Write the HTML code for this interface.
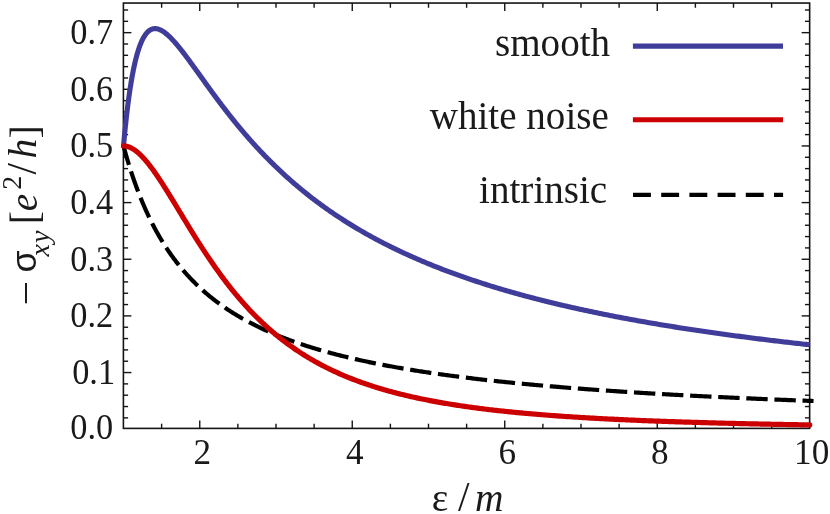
<!DOCTYPE html>
<html><head><meta charset="utf-8"><title>plot</title>
<style>
html,body{margin:0;padding:0;background:#fff;}
body{width:830px;height:514px;overflow:hidden;}
svg{display:block;will-change:transform;}
text{font-family:"Liberation Serif",serif;fill:#1a1a1a;}
</style></head><body>
<svg width="830" height="514" viewBox="0 0 830 514">
<rect x="0" y="0" width="830" height="514" fill="#ffffff"/>
<!-- frame -->
<g stroke="#141414" stroke-width="1.6" fill="none" stroke-linecap="butt">
<rect x="123.4" y="3.05" width="686.25" height="425.35"/>
</g>
<g stroke="#141414" stroke-width="1.4" fill="none" stroke-linecap="butt">
<line x1="123.40" y1="417.87" x2="128.10" y2="417.87"/>
<line x1="809.65" y1="417.87" x2="804.95" y2="417.87"/>
<line x1="123.40" y1="406.54" x2="128.10" y2="406.54"/>
<line x1="809.65" y1="406.54" x2="804.95" y2="406.54"/>
<line x1="123.40" y1="395.21" x2="128.10" y2="395.21"/>
<line x1="809.65" y1="395.21" x2="804.95" y2="395.21"/>
<line x1="123.40" y1="383.88" x2="128.10" y2="383.88"/>
<line x1="809.65" y1="383.88" x2="804.95" y2="383.88"/>
<line x1="123.40" y1="372.55" x2="131.40" y2="372.55"/>
<line x1="809.65" y1="372.55" x2="801.65" y2="372.55"/>
<line x1="123.40" y1="361.22" x2="128.10" y2="361.22"/>
<line x1="809.65" y1="361.22" x2="804.95" y2="361.22"/>
<line x1="123.40" y1="349.89" x2="128.10" y2="349.89"/>
<line x1="809.65" y1="349.89" x2="804.95" y2="349.89"/>
<line x1="123.40" y1="338.56" x2="128.10" y2="338.56"/>
<line x1="809.65" y1="338.56" x2="804.95" y2="338.56"/>
<line x1="123.40" y1="327.23" x2="128.10" y2="327.23"/>
<line x1="809.65" y1="327.23" x2="804.95" y2="327.23"/>
<line x1="123.40" y1="315.90" x2="131.40" y2="315.90"/>
<line x1="809.65" y1="315.90" x2="801.65" y2="315.90"/>
<line x1="123.40" y1="304.57" x2="128.10" y2="304.57"/>
<line x1="809.65" y1="304.57" x2="804.95" y2="304.57"/>
<line x1="123.40" y1="293.24" x2="128.10" y2="293.24"/>
<line x1="809.65" y1="293.24" x2="804.95" y2="293.24"/>
<line x1="123.40" y1="281.91" x2="128.10" y2="281.91"/>
<line x1="809.65" y1="281.91" x2="804.95" y2="281.91"/>
<line x1="123.40" y1="270.58" x2="128.10" y2="270.58"/>
<line x1="809.65" y1="270.58" x2="804.95" y2="270.58"/>
<line x1="123.40" y1="259.25" x2="131.40" y2="259.25"/>
<line x1="809.65" y1="259.25" x2="801.65" y2="259.25"/>
<line x1="123.40" y1="247.92" x2="128.10" y2="247.92"/>
<line x1="809.65" y1="247.92" x2="804.95" y2="247.92"/>
<line x1="123.40" y1="236.59" x2="128.10" y2="236.59"/>
<line x1="809.65" y1="236.59" x2="804.95" y2="236.59"/>
<line x1="123.40" y1="225.26" x2="128.10" y2="225.26"/>
<line x1="809.65" y1="225.26" x2="804.95" y2="225.26"/>
<line x1="123.40" y1="213.93" x2="128.10" y2="213.93"/>
<line x1="809.65" y1="213.93" x2="804.95" y2="213.93"/>
<line x1="123.40" y1="202.60" x2="131.40" y2="202.60"/>
<line x1="809.65" y1="202.60" x2="801.65" y2="202.60"/>
<line x1="123.40" y1="191.27" x2="128.10" y2="191.27"/>
<line x1="809.65" y1="191.27" x2="804.95" y2="191.27"/>
<line x1="123.40" y1="179.94" x2="128.10" y2="179.94"/>
<line x1="809.65" y1="179.94" x2="804.95" y2="179.94"/>
<line x1="123.40" y1="168.61" x2="128.10" y2="168.61"/>
<line x1="809.65" y1="168.61" x2="804.95" y2="168.61"/>
<line x1="123.40" y1="157.28" x2="128.10" y2="157.28"/>
<line x1="809.65" y1="157.28" x2="804.95" y2="157.28"/>
<line x1="123.40" y1="145.95" x2="131.40" y2="145.95"/>
<line x1="809.65" y1="145.95" x2="801.65" y2="145.95"/>
<line x1="123.40" y1="134.62" x2="128.10" y2="134.62"/>
<line x1="809.65" y1="134.62" x2="804.95" y2="134.62"/>
<line x1="123.40" y1="123.29" x2="128.10" y2="123.29"/>
<line x1="809.65" y1="123.29" x2="804.95" y2="123.29"/>
<line x1="123.40" y1="111.96" x2="128.10" y2="111.96"/>
<line x1="809.65" y1="111.96" x2="804.95" y2="111.96"/>
<line x1="123.40" y1="100.63" x2="128.10" y2="100.63"/>
<line x1="809.65" y1="100.63" x2="804.95" y2="100.63"/>
<line x1="123.40" y1="89.30" x2="131.40" y2="89.30"/>
<line x1="809.65" y1="89.30" x2="801.65" y2="89.30"/>
<line x1="123.40" y1="77.97" x2="128.10" y2="77.97"/>
<line x1="809.65" y1="77.97" x2="804.95" y2="77.97"/>
<line x1="123.40" y1="66.64" x2="128.10" y2="66.64"/>
<line x1="809.65" y1="66.64" x2="804.95" y2="66.64"/>
<line x1="123.40" y1="55.31" x2="128.10" y2="55.31"/>
<line x1="809.65" y1="55.31" x2="804.95" y2="55.31"/>
<line x1="123.40" y1="43.98" x2="128.10" y2="43.98"/>
<line x1="809.65" y1="43.98" x2="804.95" y2="43.98"/>
<line x1="123.40" y1="32.65" x2="131.40" y2="32.65"/>
<line x1="809.65" y1="32.65" x2="801.65" y2="32.65"/>
<line x1="123.40" y1="21.32" x2="128.10" y2="21.32"/>
<line x1="809.65" y1="21.32" x2="804.95" y2="21.32"/>
<line x1="123.40" y1="9.99" x2="128.10" y2="9.99"/>
<line x1="809.65" y1="9.99" x2="804.95" y2="9.99"/>
<line x1="161.62" y1="428.40" x2="161.62" y2="423.70"/>
<line x1="161.62" y1="3.05" x2="161.62" y2="7.75"/>
<line x1="199.75" y1="428.40" x2="199.75" y2="420.40"/>
<line x1="199.75" y1="3.05" x2="199.75" y2="11.05"/>
<line x1="237.88" y1="428.40" x2="237.88" y2="423.70"/>
<line x1="237.88" y1="3.05" x2="237.88" y2="7.75"/>
<line x1="276.00" y1="428.40" x2="276.00" y2="423.70"/>
<line x1="276.00" y1="3.05" x2="276.00" y2="7.75"/>
<line x1="314.12" y1="428.40" x2="314.12" y2="423.70"/>
<line x1="314.12" y1="3.05" x2="314.12" y2="7.75"/>
<line x1="352.25" y1="428.40" x2="352.25" y2="420.40"/>
<line x1="352.25" y1="3.05" x2="352.25" y2="11.05"/>
<line x1="390.38" y1="428.40" x2="390.38" y2="423.70"/>
<line x1="390.38" y1="3.05" x2="390.38" y2="7.75"/>
<line x1="428.50" y1="428.40" x2="428.50" y2="423.70"/>
<line x1="428.50" y1="3.05" x2="428.50" y2="7.75"/>
<line x1="466.62" y1="428.40" x2="466.62" y2="423.70"/>
<line x1="466.62" y1="3.05" x2="466.62" y2="7.75"/>
<line x1="504.75" y1="428.40" x2="504.75" y2="420.40"/>
<line x1="504.75" y1="3.05" x2="504.75" y2="11.05"/>
<line x1="542.88" y1="428.40" x2="542.88" y2="423.70"/>
<line x1="542.88" y1="3.05" x2="542.88" y2="7.75"/>
<line x1="581.00" y1="428.40" x2="581.00" y2="423.70"/>
<line x1="581.00" y1="3.05" x2="581.00" y2="7.75"/>
<line x1="619.12" y1="428.40" x2="619.12" y2="423.70"/>
<line x1="619.12" y1="3.05" x2="619.12" y2="7.75"/>
<line x1="657.25" y1="428.40" x2="657.25" y2="420.40"/>
<line x1="657.25" y1="3.05" x2="657.25" y2="11.05"/>
<line x1="695.38" y1="428.40" x2="695.38" y2="423.70"/>
<line x1="695.38" y1="3.05" x2="695.38" y2="7.75"/>
<line x1="733.50" y1="428.40" x2="733.50" y2="423.70"/>
<line x1="733.50" y1="3.05" x2="733.50" y2="7.75"/>
<line x1="771.62" y1="428.40" x2="771.62" y2="423.70"/>
<line x1="771.62" y1="3.05" x2="771.62" y2="7.75"/>
</g>
<!-- curves -->
<path d="M123.50,145.95 L123.52,145.68 L123.57,145.12 L123.64,144.36 L123.73,143.44 L123.82,142.38 L123.93,141.19 L124.06,139.89 L124.19,138.49 L124.33,136.99 L124.48,135.41 L124.65,133.75 L124.82,132.02 L125.00,130.22 L125.18,128.37 L125.38,126.47 L125.59,124.52 L125.80,122.53 L126.02,120.51 L126.25,118.45 L126.48,116.36 L126.72,114.25 L126.97,112.13 L127.23,109.98 L127.49,107.83 L127.76,105.67 L128.03,103.50 L128.32,101.34 L128.61,99.18 L128.90,97.02 L129.20,94.87 L129.51,92.73 L129.82,90.60 L130.14,88.49 L130.47,86.40 L130.80,84.32 L131.13,82.27 L131.47,80.25 L131.82,78.25 L132.18,76.27 L132.53,74.33 L132.90,72.42 L133.27,70.54 L133.64,68.70 L134.02,66.89 L134.41,65.11 L134.80,63.37 L135.19,61.68 L135.59,60.02 L136.00,58.40 L136.41,56.82 L136.83,55.28 L137.25,53.79 L137.67,52.33 L138.10,50.92 L138.54,49.56 L138.98,48.23 L139.42,46.95 L139.87,45.72 L140.33,44.53 L140.78,43.38 L141.25,42.28 L141.71,41.23 L142.19,40.21 L142.66,39.25 L143.15,38.32 L143.63,37.44 L144.12,36.61 L144.62,35.82 L145.12,35.07 L145.62,34.37 L146.13,33.70 L146.64,33.09 L147.15,32.51 L147.68,31.97 L148.20,31.48 L148.73,31.03 L149.26,30.62 L149.80,30.25 L150.34,29.92 L150.89,29.62 L151.44,29.37 L151.99,29.15 L152.55,28.98 L153.11,28.83 L153.68,28.73 L154.25,28.66 L154.82,28.63 L155.40,28.63 L155.98,28.66 L156.57,28.73 L157.16,28.84 L157.75,28.97 L158.35,29.14 L158.95,29.34 L159.55,29.56 L160.16,29.82 L160.78,30.11 L161.39,30.43 L162.01,30.77 L162.64,31.14 L163.27,31.54 L163.90,31.97 L164.53,32.42 L165.17,32.90 L165.82,33.40 L166.46,33.92 L167.11,34.47 L167.77,35.05 L168.42,35.64 L169.09,36.26 L169.75,36.89 L170.42,37.55 L171.09,38.23 L171.77,38.93 L172.45,39.65 L173.13,40.38 L173.81,41.14 L174.50,41.91 L175.20,42.70 L175.89,43.50 L176.60,44.32 L177.30,45.16 L178.01,46.01 L178.72,46.88 L179.43,47.76 L180.15,48.65 L180.87,49.56 L181.59,50.48 L182.32,51.42 L183.05,52.36 L183.79,53.32 L184.53,54.29 L185.27,55.27 L186.01,56.26 L186.76,57.26 L187.51,58.27 L188.27,59.29 L189.02,60.31 L189.79,61.35 L190.55,62.39 L191.32,63.45 L192.09,64.51 L192.86,65.57 L193.64,66.65 L194.42,67.73 L195.21,68.82 L195.99,69.91 L196.79,71.01 L197.58,72.11 L198.38,73.22 L199.18,74.34 L199.98,75.46 L200.79,76.58 L201.60,77.71 L202.41,78.84 L203.23,79.98 L204.05,81.11 L204.87,82.26 L205.69,83.40 L206.52,84.55 L207.35,85.70 L208.19,86.85 L209.03,88.00 L209.87,89.16 L210.71,90.32 L211.56,91.48 L212.41,92.64 L213.26,93.80 L214.12,94.96 L214.98,96.12 L215.84,97.29 L216.71,98.45 L217.57,99.61 L218.45,100.78 L219.32,101.94 L220.20,103.11 L221.08,104.27 L221.96,105.43 L222.85,106.60 L223.74,107.76 L224.63,108.92 L225.53,110.08 L226.43,111.24 L227.33,112.40 L228.23,113.55 L229.14,114.71 L230.05,115.86 L230.96,117.01 L231.88,118.16 L232.80,119.31 L233.72,120.46 L234.64,121.60 L235.57,122.74 L236.50,123.88 L237.43,125.02 L238.37,126.16 L239.31,127.29 L240.25,128.42 L241.20,129.55 L242.14,130.67 L243.10,131.79 L244.05,132.91 L245.00,134.03 L245.96,135.14 L246.93,136.25 L247.89,137.36 L248.86,138.46 L249.83,139.57 L250.80,140.66 L251.78,141.76 L252.76,142.85 L253.74,143.94 L254.72,145.02 L255.71,146.10 L256.70,147.18 L257.69,148.26 L258.69,149.33 L259.69,150.39 L260.69,151.46 L261.69,152.52 L262.70,153.57 L263.71,154.62 L264.72,155.67 L265.73,156.72 L266.75,157.76 L267.77,158.80 L268.79,159.83 L269.82,160.86 L270.85,161.89 L271.88,162.91 L272.91,163.93 L273.95,164.94 L274.98,165.95 L276.03,166.96 L277.07,167.96 L278.12,168.96 L279.17,169.95 L280.22,170.94 L281.27,171.93 L282.33,172.91 L283.39,173.89 L284.45,174.86 L285.52,175.83 L286.59,176.80 L287.66,177.76 L288.73,178.72 L289.81,179.67 L290.89,180.62 L291.97,181.57 L293.05,182.51 L294.14,183.45 L295.23,184.38 L296.32,185.31 L297.41,186.24 L298.51,187.16 L299.61,188.08 L300.71,188.99 L301.82,189.90 L302.92,190.80 L304.03,191.71 L305.15,192.60 L306.26,193.50 L307.38,194.38 L308.50,195.27 L309.62,196.15 L310.74,197.03 L311.87,197.90 L313.00,198.77 L314.14,199.63 L315.27,200.50 L316.41,201.35 L317.55,202.21 L318.69,203.06 L319.84,203.90 L320.98,204.74 L322.13,205.58 L323.29,206.41 L324.44,207.24 L325.60,208.07 L326.76,208.89 L327.92,209.71 L329.09,210.52 L330.26,211.33 L331.43,212.14 L332.60,212.94 L333.77,213.74 L334.95,214.54 L336.13,215.33 L337.31,216.11 L338.50,216.90 L339.69,217.68 L340.88,218.45 L342.07,219.23 L343.26,220.00 L344.46,220.76 L345.66,221.52 L346.86,222.28 L348.07,223.03 L349.27,223.78 L350.48,224.53 L351.69,225.28 L352.91,226.01 L354.13,226.75 L355.34,227.48 L356.57,228.21 L357.79,228.94 L359.02,229.66 L360.24,230.38 L361.48,231.09 L362.71,231.81 L363.95,232.51 L365.18,233.22 L366.42,233.92 L367.67,234.62 L368.91,235.31 L370.16,236.00 L371.41,236.69 L372.66,237.38 L373.92,238.06 L375.17,238.74 L376.43,239.41 L377.70,240.08 L378.96,240.75 L380.23,241.41 L381.50,242.08 L382.77,242.73 L384.04,243.39 L385.32,244.04 L386.60,244.69 L387.88,245.34 L389.16,245.98 L390.44,246.62 L391.73,247.25 L393.02,247.89 L394.31,248.52 L395.61,249.14 L396.91,249.77 L398.20,250.39 L399.51,251.01 L400.81,251.62 L402.12,252.23 L403.42,252.84 L404.74,253.45 L406.05,254.05 L407.36,254.65 L408.68,255.25 L410.00,255.84 L411.32,256.44 L412.65,257.02 L413.97,257.61 L415.30,258.19 L416.64,258.77 L417.97,259.35 L419.30,259.93 L420.64,260.50 L421.98,261.07 L423.33,261.63 L424.67,262.20 L426.02,262.76 L427.37,263.32 L428.72,263.87 L430.07,264.42 L431.43,264.97 L432.79,265.52 L434.15,266.07 L435.51,266.61 L436.88,267.15 L438.24,267.69 L439.61,268.22 L440.98,268.75 L442.36,269.28 L443.73,269.81 L445.11,270.33 L446.49,270.86 L447.88,271.38 L449.26,271.89 L450.65,272.41 L452.04,272.92 L453.43,273.43 L454.82,273.94 L456.22,274.44 L457.62,274.94 L459.02,275.44 L460.42,275.94 L461.83,276.44 L463.23,276.93 L464.64,277.42 L466.05,277.91 L467.47,278.39 L468.88,278.88 L470.30,279.36 L471.72,279.84 L473.15,280.32 L474.57,280.79 L476.00,281.26 L477.43,281.73 L478.86,282.20 L480.29,282.67 L481.73,283.13 L483.16,283.59 L484.60,284.05 L486.04,284.51 L487.49,284.97 L488.93,285.42 L490.38,285.87 L491.83,286.32 L493.29,286.77 L494.74,287.21 L496.20,287.65 L497.66,288.09 L499.12,288.53 L500.58,288.97 L502.05,289.40 L503.51,289.84 L504.98,290.27 L506.46,290.69 L507.93,291.12 L509.41,291.55 L510.88,291.97 L512.36,292.39 L513.85,292.81 L515.33,293.23 L516.82,293.64 L518.31,294.05 L519.80,294.46 L521.29,294.87 L522.79,295.28 L524.28,295.69 L525.78,296.09 L527.28,296.49 L528.79,296.89 L530.29,297.29 L531.80,297.69 L533.31,298.08 L534.82,298.48 L536.34,298.87 L537.85,299.26 L539.37,299.65 L540.89,300.03 L542.41,300.42 L543.94,300.80 L545.46,301.18 L546.99,301.56 L548.52,301.94 L550.06,302.31 L551.59,302.69 L553.13,303.06 L554.67,303.43 L556.21,303.80 L557.75,304.17 L559.29,304.53 L560.84,304.90 L562.39,305.26 L563.94,305.62 L565.50,305.98 L567.05,306.34 L568.61,306.69 L570.17,307.05 L571.73,307.40 L573.29,307.75 L574.86,308.10 L576.43,308.45 L577.99,308.80 L579.57,309.15 L581.14,309.49 L582.72,309.83 L584.29,310.17 L585.87,310.51 L587.46,310.85 L589.04,311.19 L590.62,311.52 L592.21,311.86 L593.80,312.19 L595.39,312.52 L596.99,312.85 L598.58,313.18 L600.18,313.50 L601.78,313.83 L603.38,314.15 L604.99,314.48 L606.59,314.80 L608.20,315.12 L609.81,315.43 L611.42,315.75 L613.04,316.07 L614.65,316.38 L616.27,316.69 L617.89,317.01 L619.51,317.32 L621.14,317.63 L622.76,317.93 L624.39,318.24 L626.02,318.55 L627.65,318.85 L629.29,319.15 L630.92,319.45 L632.56,319.75 L634.20,320.05 L635.84,320.35 L637.49,320.65 L639.13,320.94 L640.78,321.23 L642.43,321.53 L644.08,321.82 L645.73,322.11 L647.39,322.40 L649.05,322.69 L650.71,322.97 L652.37,323.26 L654.03,323.54 L655.70,323.83 L657.36,324.11 L659.03,324.39 L660.71,324.67 L662.38,324.95 L664.05,325.22 L665.73,325.50 L667.41,325.77 L669.09,326.05 L670.77,326.32 L672.46,326.59 L674.15,326.86 L675.83,327.13 L677.53,327.40 L679.22,327.67 L680.91,327.93 L682.61,328.20 L684.31,328.46 L686.01,328.73 L687.71,328.99 L689.41,329.25 L691.12,329.51 L692.83,329.77 L694.54,330.03 L696.25,330.28 L697.96,330.54 L699.68,330.79 L701.40,331.05 L703.12,331.30 L704.84,331.55 L706.56,331.80 L708.29,332.05 L710.02,332.30 L711.74,332.55 L713.48,332.79 L715.21,333.04 L716.94,333.29 L718.68,333.53 L720.42,333.77 L722.16,334.01 L723.90,334.25 L725.65,334.49 L727.39,334.73 L729.14,334.97 L730.89,335.21 L732.64,335.45 L734.40,335.68 L736.15,335.92 L737.91,336.15 L739.67,336.38 L741.43,336.61 L743.19,336.84 L744.96,337.07 L746.73,337.30 L748.50,337.53 L750.27,337.76 L752.04,337.98 L753.81,338.21 L755.59,338.43 L757.37,338.66 L759.15,338.88 L760.93,339.10 L762.71,339.32 L764.50,339.54 L766.29,339.76 L768.08,339.98 L769.87,340.20 L771.66,340.42 L773.46,340.63 L775.25,340.85 L777.05,341.06 L778.85,341.28 L780.66,341.49 L782.46,341.70 L784.27,341.91 L786.08,342.12 L787.89,342.33 L789.70,342.54 L791.51,342.75 L793.33,342.96 L795.14,343.17 L796.96,343.37 L798.78,343.58 L800.61,343.78 L802.43,343.98 L804.26,344.19 L806.09,344.39 L807.92,344.59 L809.75,344.79" fill="none" stroke="#3f3d99" stroke-width="5.1" stroke-linejoin="round" stroke-linecap="butt"/>
<path d="M123.50,145.95 L123.52,146.04 L123.58,146.23 L123.64,146.48 L123.73,146.80 L123.83,147.16 L123.94,147.56 L124.06,148.01 L124.19,148.50 L124.34,149.02 L124.49,149.58 L124.65,150.16 L124.82,150.78 L125.00,151.43 L125.19,152.10 L125.39,152.81 L125.60,153.53 L125.81,154.28 L126.03,155.05 L126.26,155.85 L126.50,156.66 L126.74,157.50 L126.99,158.35 L127.25,159.22 L127.51,160.11 L127.78,161.01 L128.06,161.93 L128.34,162.87 L128.63,163.82 L128.93,164.78 L129.23,165.76 L129.54,166.75 L129.86,167.75 L130.18,168.76 L130.50,169.78 L130.84,170.81 L131.18,171.85 L131.52,172.90 L131.87,173.96 L132.22,175.03 L132.58,176.10 L132.95,177.19 L133.32,178.27 L133.70,179.37 L134.08,180.47 L134.47,181.57 L134.86,182.68 L135.26,183.79 L135.66,184.91 L136.07,186.03 L136.48,187.16 L136.90,188.29 L137.32,189.42 L137.75,190.55 L138.18,191.69 L138.62,192.83 L139.06,193.96 L139.51,195.10 L139.96,196.24 L140.42,197.39 L140.88,198.53 L141.35,199.67 L141.82,200.81 L142.29,201.95 L142.77,203.09 L143.25,204.23 L143.74,205.37 L144.24,206.51 L144.73,207.65 L145.24,208.78 L145.74,209.91 L146.25,211.04 L146.77,212.17 L147.29,213.30 L147.81,214.42 L148.34,215.54 L148.87,216.66 L149.41,217.78 L149.95,218.89 L150.49,220.00 L151.04,221.11 L151.59,222.21 L152.15,223.31 L152.71,224.40 L153.28,225.50 L153.84,226.58 L154.42,227.67 L154.99,228.75 L155.58,229.82 L156.16,230.89 L156.75,231.96 L157.34,233.02 L157.94,234.08 L158.54,235.13 L159.15,236.18 L159.75,237.23 L160.37,238.27 L160.98,239.30 L161.60,240.33 L162.23,241.36 L162.86,242.38 L163.49,243.39 L164.12,244.40 L164.76,245.41 L165.40,246.41 L166.05,247.40 L166.70,248.39 L167.36,249.38 L168.01,250.35 L168.67,251.33 L169.34,252.30 L170.01,253.26 L170.68,254.22 L171.36,255.17 L172.03,256.12 L172.72,257.06 L173.40,258.00 L174.09,258.93 L174.79,259.86 L175.49,260.78 L176.19,261.69 L176.89,262.60 L177.60,263.51 L178.31,264.41 L179.02,265.30 L179.74,266.19 L180.46,267.07 L181.19,267.95 L181.92,268.82 L182.65,269.69 L183.38,270.55 L184.12,271.41 L184.87,272.26 L185.61,273.10 L186.36,273.94 L187.11,274.78 L187.87,275.61 L188.63,276.43 L189.39,277.25 L190.15,278.07 L190.92,278.87 L191.70,279.68 L192.47,280.48 L193.25,281.27 L194.03,282.06 L194.82,282.84 L195.61,283.62 L196.40,284.39 L197.19,285.16 L197.99,285.92 L198.79,286.68 L199.60,287.43 L200.41,288.18 L201.22,288.92 L202.03,289.66 L202.85,290.39 L203.67,291.12 L204.49,291.85 L205.32,292.57 L206.15,293.28 L206.98,293.99 L207.82,294.69 L208.66,295.39 L209.50,296.09 L210.35,296.78 L211.20,297.46 L212.05,298.14 L212.90,298.82 L213.76,299.49 L214.62,300.16 L215.49,300.82 L216.35,301.48 L217.22,302.13 L218.10,302.78 L218.97,303.43 L219.85,304.07 L220.74,304.71 L221.62,305.34 L222.51,305.97 L223.40,306.59 L224.30,307.21 L225.19,307.83 L226.09,308.44 L227.00,309.04 L227.90,309.65 L228.81,310.24 L229.72,310.84 L230.64,311.43 L231.56,312.02 L232.48,312.60 L233.40,313.18 L234.33,313.75 L235.26,314.32 L236.19,314.89 L237.13,315.45 L238.07,316.01 L239.01,316.57 L239.95,317.12 L240.90,317.67 L241.85,318.21 L242.80,318.76 L243.76,319.29 L244.72,319.83 L245.68,320.36 L246.64,320.88 L247.61,321.41 L248.58,321.93 L249.55,322.44 L250.53,322.95 L251.51,323.46 L252.49,323.97 L253.47,324.47 L254.46,324.97 L255.45,325.46 L256.44,325.96 L257.44,326.45 L258.44,326.93 L259.44,327.41 L260.44,327.89 L261.45,328.37 L262.46,328.84 L263.47,329.31 L264.48,329.78 L265.50,330.24 L266.52,330.70 L267.54,331.16 L268.57,331.61 L269.60,332.07 L270.63,332.51 L271.66,332.96 L272.70,333.40 L273.74,333.84 L274.78,334.28 L275.83,334.71 L276.87,335.14 L277.92,335.57 L278.98,336.00 L280.03,336.42 L281.09,336.84 L282.15,337.26 L283.21,337.67 L284.28,338.08 L285.35,338.49 L286.42,338.90 L287.49,339.30 L288.57,339.70 L289.65,340.10 L290.73,340.50 L291.82,340.89 L292.90,341.28 L293.99,341.67 L295.09,342.05 L296.18,342.44 L297.28,342.82 L298.38,343.20 L299.48,343.57 L300.59,343.95 L301.70,344.32 L302.81,344.69 L303.92,345.05 L305.04,345.42 L306.15,345.78 L307.28,346.14 L308.40,346.50 L309.53,346.85 L310.65,347.20 L311.79,347.56 L312.92,347.90 L314.06,348.25 L315.19,348.59 L316.34,348.94 L317.48,349.28 L318.63,349.61 L319.78,349.95 L320.93,350.28 L322.08,350.61 L323.24,350.94 L324.40,351.27 L325.56,351.60 L326.72,351.92 L327.89,352.24 L329.06,352.56 L330.23,352.88 L331.40,353.19 L332.58,353.51 L333.76,353.82 L334.94,354.13 L336.13,354.44 L337.31,354.74 L338.50,355.04 L339.69,355.35 L340.89,355.65 L342.08,355.95 L343.28,356.24 L344.48,356.54 L345.69,356.83 L346.89,357.12 L348.10,357.41 L349.31,357.70 L350.53,357.99 L351.74,358.27 L352.96,358.55 L354.18,358.83 L355.41,359.11 L356.63,359.39 L357.86,359.67 L359.09,359.94 L360.32,360.21 L361.56,360.49 L362.80,360.75 L364.04,361.02 L365.28,361.29 L366.53,361.55 L367.77,361.82 L369.02,362.08 L370.28,362.34 L371.53,362.60 L372.79,362.85 L374.05,363.11 L375.31,363.36 L376.57,363.62 L377.84,363.87 L379.11,364.12 L380.38,364.37 L381.65,364.61 L382.93,364.86 L384.21,365.10 L385.49,365.35 L386.77,365.59 L388.06,365.83 L389.34,366.07 L390.63,366.30 L391.93,366.54 L393.22,366.77 L394.52,367.01 L395.82,367.24 L397.12,367.47 L398.42,367.70 L399.73,367.93 L401.04,368.15 L402.35,368.38 L403.66,368.60 L404.98,368.83 L406.30,369.05 L407.62,369.27 L408.94,369.49 L410.27,369.70 L411.59,369.92 L412.92,370.14 L414.25,370.35 L415.59,370.56 L416.92,370.78 L418.26,370.99 L419.60,371.20 L420.95,371.41 L422.29,371.61 L423.64,371.82 L424.99,372.02 L426.34,372.23 L427.70,372.43 L429.06,372.63 L430.41,372.83 L431.78,373.03 L433.14,373.23 L434.51,373.43 L435.87,373.62 L437.24,373.82 L438.62,374.01 L439.99,374.21 L441.37,374.40 L442.75,374.59 L444.13,374.78 L445.51,374.97 L446.90,375.16 L448.29,375.35 L449.68,375.53 L451.07,375.72 L452.47,375.90 L453.86,376.08 L455.26,376.27 L456.66,376.45 L458.07,376.63 L459.47,376.81 L460.88,376.99 L462.29,377.16 L463.71,377.34 L465.12,377.51 L466.54,377.69 L467.96,377.86 L469.38,378.04 L470.80,378.21 L472.23,378.38 L473.66,378.55 L475.09,378.72 L476.52,378.89 L477.95,379.05 L479.39,379.22 L480.83,379.39 L482.27,379.55 L483.72,379.72 L485.16,379.88 L486.61,380.04 L488.06,380.20 L489.51,380.36 L490.96,380.53 L492.42,380.68 L493.88,380.84 L495.34,381.00 L496.80,381.16 L498.27,381.31 L499.74,381.47 L501.20,381.62 L502.68,381.78 L504.15,381.93 L505.63,382.08 L507.10,382.23 L508.58,382.38 L510.07,382.53 L511.55,382.68 L513.04,382.83 L514.52,382.98 L516.02,383.13 L517.51,383.27 L519.00,383.42 L520.50,383.56 L522.00,383.71 L523.50,383.85 L525.00,383.99 L526.51,384.14 L528.02,384.28 L529.53,384.42 L531.04,384.56 L532.55,384.70 L534.07,384.83 L535.59,384.97 L537.11,385.11 L538.63,385.25 L540.15,385.38 L541.68,385.52 L543.21,385.65 L544.74,385.79 L546.27,385.92 L547.81,386.05 L549.34,386.18 L550.88,386.32 L552.43,386.45 L553.97,386.58 L555.51,386.71 L557.06,386.84 L558.61,386.96 L560.16,387.09 L561.72,387.22 L563.27,387.35 L564.83,387.47 L566.39,387.60 L567.95,387.72 L569.51,387.85 L571.08,387.97 L572.65,388.09 L574.22,388.22 L575.79,388.34 L577.37,388.46 L578.94,388.58 L580.52,388.70 L582.10,388.82 L583.68,388.94 L585.27,389.06 L586.85,389.17 L588.44,389.29 L590.03,389.41 L591.63,389.53 L593.22,389.64 L594.82,389.76 L596.42,389.87 L598.02,389.99 L599.62,390.10 L601.22,390.21 L602.83,390.33 L604.44,390.44 L606.05,390.55 L607.66,390.66 L609.28,390.77 L610.89,390.88 L612.51,390.99 L614.13,391.10 L615.76,391.21 L617.38,391.32 L619.01,391.43 L620.64,391.53 L622.27,391.64 L623.90,391.75 L625.54,391.85 L627.17,391.96 L628.81,392.06 L630.45,392.17 L632.10,392.27 L633.74,392.37 L635.39,392.48 L637.04,392.58 L638.69,392.68 L640.34,392.78 L642.00,392.89 L643.65,392.99 L645.31,393.09 L646.97,393.19 L648.64,393.29 L650.30,393.39 L651.97,393.48 L653.64,393.58 L655.31,393.68 L656.98,393.78 L658.65,393.88 L660.33,393.97 L662.01,394.07 L663.69,394.16 L665.37,394.26 L667.06,394.35 L668.74,394.45 L670.43,394.54 L672.12,394.64 L673.81,394.73 L675.51,394.82 L677.20,394.92 L678.90,395.01 L680.60,395.10 L682.31,395.19 L684.01,395.28 L685.72,395.37 L687.42,395.46 L689.13,395.55 L690.84,395.64 L692.56,395.73 L694.27,395.82 L695.99,395.91 L697.71,396.00 L699.43,396.08 L701.16,396.17 L702.88,396.26 L704.61,396.34 L706.34,396.43 L708.07,396.52 L709.80,396.60 L711.54,396.69 L713.27,396.77 L715.01,396.86 L716.75,396.94 L718.50,397.02 L720.24,397.11 L721.99,397.19 L723.73,397.27 L725.49,397.36 L727.24,397.44 L728.99,397.52 L730.75,397.60 L732.51,397.68 L734.27,397.76 L736.03,397.84 L737.79,397.92 L739.56,398.00 L741.32,398.08 L743.09,398.16 L744.86,398.24 L746.64,398.32 L748.41,398.40 L750.19,398.47 L751.97,398.55 L753.75,398.63 L755.53,398.71 L757.32,398.78 L759.10,398.86 L760.89,398.94 L762.68,399.01 L764.47,399.09 L766.27,399.16 L768.06,399.24 L769.86,399.31 L771.66,399.39 L773.46,399.46 L775.26,399.53 L777.07,399.61 L778.88,399.68 L780.68,399.75 L782.50,399.83 L784.31,399.90 L786.12,399.97 L787.94,400.04 L789.76,400.11 L791.58,400.18 L793.40,400.25 L795.22,400.32 L797.05,400.40 L798.88,400.47 L800.71,400.53 L802.54,400.60 L804.37,400.67 L806.20,400.74 L808.04,400.81 L809.88,400.88 L811.72,400.95 L813.56,401.02" fill="none" stroke="#000000" stroke-width="4.2" stroke-linejoin="round" stroke-linecap="butt" stroke-dasharray="21.4 6.73" stroke-dashoffset="1.7"/>
<path d="M123.50,145.95 L123.52,145.95 L123.57,145.95 L123.64,145.95 L123.73,145.95 L123.82,145.95 L123.93,145.96 L124.06,145.96 L124.19,145.97 L124.33,145.98 L124.48,145.99 L124.65,146.00 L124.82,146.01 L125.00,146.03 L125.18,146.05 L125.38,146.08 L125.59,146.11 L125.80,146.14 L126.02,146.18 L126.25,146.22 L126.48,146.27 L126.72,146.32 L126.97,146.38 L127.23,146.44 L127.49,146.51 L127.76,146.59 L128.03,146.67 L128.32,146.76 L128.61,146.86 L128.90,146.97 L129.20,147.08 L129.51,147.20 L129.82,147.33 L130.14,147.47 L130.47,147.62 L130.80,147.77 L131.13,147.94 L131.47,148.11 L131.82,148.30 L132.18,148.49 L132.53,148.70 L132.90,148.91 L133.27,149.14 L133.64,149.38 L134.02,149.63 L134.41,149.89 L134.80,150.16 L135.19,150.44 L135.59,150.73 L136.00,151.04 L136.41,151.36 L136.83,151.69 L137.25,152.03 L137.67,152.39 L138.10,152.76 L138.54,153.14 L138.98,153.53 L139.42,153.94 L139.87,154.36 L140.33,154.80 L140.78,155.24 L141.25,155.70 L141.71,156.18 L142.19,156.67 L142.66,157.17 L143.15,157.68 L143.63,158.21 L144.12,158.75 L144.62,159.31 L145.12,159.88 L145.62,160.46 L146.13,161.06 L146.64,161.67 L147.15,162.29 L147.68,162.93 L148.20,163.58 L148.73,164.25 L149.26,164.93 L149.80,165.62 L150.34,166.33 L150.89,167.05 L151.44,167.78 L151.99,168.53 L152.55,169.29 L153.11,170.06 L153.68,170.85 L154.25,171.64 L154.82,172.46 L155.40,173.28 L155.98,174.12 L156.57,174.97 L157.16,175.83 L157.75,176.71 L158.35,177.59 L158.95,178.49 L159.55,179.40 L160.16,180.32 L160.78,181.26 L161.39,182.20 L162.01,183.16 L162.64,184.13 L163.27,185.11 L163.90,186.10 L164.53,187.10 L165.17,188.10 L165.82,189.13 L166.46,190.16 L167.11,191.19 L167.77,192.24 L168.42,193.30 L169.09,194.37 L169.75,195.45 L170.42,196.53 L171.09,197.63 L171.77,198.73 L172.45,199.84 L173.13,200.96 L173.81,202.08 L174.50,203.22 L175.20,204.36 L175.89,205.51 L176.60,206.66 L177.30,207.82 L178.01,208.99 L178.72,210.16 L179.43,211.34 L180.15,212.52 L180.87,213.71 L181.59,214.91 L182.32,216.11 L183.05,217.32 L183.79,218.53 L184.53,219.74 L185.27,220.96 L186.01,222.18 L186.76,223.40 L187.51,224.63 L188.27,225.86 L189.02,227.10 L189.79,228.34 L190.55,229.58 L191.32,230.82 L192.09,232.06 L192.86,233.31 L193.64,234.56 L194.42,235.81 L195.21,237.06 L195.99,238.31 L196.79,239.56 L197.58,240.82 L198.38,242.07 L199.18,243.33 L199.98,244.58 L200.79,245.83 L201.60,247.09 L202.41,248.34 L203.23,249.59 L204.05,250.84 L204.87,252.09 L205.69,253.34 L206.52,254.59 L207.35,255.84 L208.19,257.08 L209.03,258.33 L209.87,259.57 L210.71,260.80 L211.56,262.04 L212.41,263.27 L213.26,264.50 L214.12,265.73 L214.98,266.96 L215.84,268.18 L216.71,269.40 L217.57,270.61 L218.45,271.83 L219.32,273.03 L220.20,274.24 L221.08,275.44 L221.96,276.64 L222.85,277.83 L223.74,279.02 L224.63,280.20 L225.53,281.38 L226.43,282.55 L227.33,283.72 L228.23,284.89 L229.14,286.05 L230.05,287.20 L230.96,288.36 L231.88,289.50 L232.80,290.64 L233.72,291.78 L234.64,292.90 L235.57,294.03 L236.50,295.15 L237.43,296.26 L238.37,297.37 L239.31,298.47 L240.25,299.56 L241.20,300.65 L242.14,301.74 L243.10,302.82 L244.05,303.89 L245.00,304.95 L245.96,306.01 L246.93,307.07 L247.89,308.11 L248.86,309.15 L249.83,310.19 L250.80,311.22 L251.78,312.24 L252.76,313.26 L253.74,314.26 L254.72,315.27 L255.71,316.26 L256.70,317.25 L257.69,318.24 L258.69,319.21 L259.69,320.18 L260.69,321.15 L261.69,322.10 L262.70,323.05 L263.71,324.00 L264.72,324.94 L265.73,325.87 L266.75,326.79 L267.77,327.71 L268.79,328.62 L269.82,329.52 L270.85,330.42 L271.88,331.31 L272.91,332.19 L273.95,333.07 L274.98,333.94 L276.03,334.81 L277.07,335.66 L278.12,336.51 L279.17,337.36 L280.22,338.20 L281.27,339.03 L282.33,339.85 L283.39,340.67 L284.45,341.48 L285.52,342.28 L286.59,343.08 L287.66,343.87 L288.73,344.66 L289.81,345.44 L290.89,346.21 L291.97,346.98 L293.05,347.74 L294.14,348.49 L295.23,349.24 L296.32,349.98 L297.41,350.71 L298.51,351.44 L299.61,352.16 L300.71,352.88 L301.82,353.59 L302.92,354.29 L304.03,354.99 L305.15,355.68 L306.26,356.37 L307.38,357.05 L308.50,357.72 L309.62,358.39 L310.74,359.05 L311.87,359.71 L313.00,360.36 L314.14,361.00 L315.27,361.64 L316.41,362.27 L317.55,362.90 L318.69,363.52 L319.84,364.14 L320.98,364.75 L322.13,365.35 L323.29,365.95 L324.44,366.54 L325.60,367.13 L326.76,367.71 L327.92,368.29 L329.09,368.86 L330.26,369.43 L331.43,369.99 L332.60,370.55 L333.77,371.10 L334.95,371.64 L336.13,372.18 L337.31,372.72 L338.50,373.25 L339.69,373.78 L340.88,374.30 L342.07,374.81 L343.26,375.32 L344.46,375.83 L345.66,376.33 L346.86,376.83 L348.07,377.32 L349.27,377.81 L350.48,378.29 L351.69,378.77 L352.91,379.24 L354.13,379.71 L355.34,380.17 L356.57,380.63 L357.79,381.09 L359.02,381.54 L360.24,381.99 L361.48,382.43 L362.71,382.87 L363.95,383.30 L365.18,383.73 L366.42,384.15 L367.67,384.58 L368.91,384.99 L370.16,385.41 L371.41,385.81 L372.66,386.22 L373.92,386.62 L375.17,387.02 L376.43,387.41 L377.70,387.80 L378.96,388.19 L380.23,388.57 L381.50,388.95 L382.77,389.32 L384.04,389.69 L385.32,390.06 L386.60,390.42 L387.88,390.78 L389.16,391.14 L390.44,391.49 L391.73,391.84 L393.02,392.19 L394.31,392.53 L395.61,392.87 L396.91,393.20 L398.20,393.54 L399.51,393.87 L400.81,394.19 L402.12,394.51 L403.42,394.83 L404.74,395.15 L406.05,395.46 L407.36,395.77 L408.68,396.08 L410.00,396.39 L411.32,396.69 L412.65,396.98 L413.97,397.28 L415.30,397.57 L416.64,397.86 L417.97,398.15 L419.30,398.43 L420.64,398.71 L421.98,398.99 L423.33,399.27 L424.67,399.54 L426.02,399.81 L427.37,400.07 L428.72,400.34 L430.07,400.60 L431.43,400.86 L432.79,401.12 L434.15,401.37 L435.51,401.62 L436.88,401.87 L438.24,402.12 L439.61,402.36 L440.98,402.61 L442.36,402.85 L443.73,403.08 L445.11,403.32 L446.49,403.55 L447.88,403.78 L449.26,404.01 L450.65,404.23 L452.04,404.46 L453.43,404.68 L454.82,404.90 L456.22,405.11 L457.62,405.33 L459.02,405.54 L460.42,405.75 L461.83,405.96 L463.23,406.17 L464.64,406.37 L466.05,406.57 L467.47,406.77 L468.88,406.97 L470.30,407.17 L471.72,407.36 L473.15,407.56 L474.57,407.75 L476.00,407.93 L477.43,408.12 L478.86,408.31 L480.29,408.49 L481.73,408.67 L483.16,408.85 L484.60,409.03 L486.04,409.21 L487.49,409.38 L488.93,409.55 L490.38,409.72 L491.83,409.89 L493.29,410.06 L494.74,410.23 L496.20,410.39 L497.66,410.56 L499.12,410.72 L500.58,410.88 L502.05,411.03 L503.51,411.19 L504.98,411.35 L506.46,411.50 L507.93,411.65 L509.41,411.80 L510.88,411.95 L512.36,412.10 L513.85,412.25 L515.33,412.39 L516.82,412.54 L518.31,412.68 L519.80,412.82 L521.29,412.96 L522.79,413.10 L524.28,413.23 L525.78,413.37 L527.28,413.50 L528.79,413.64 L530.29,413.77 L531.80,413.90 L533.31,414.03 L534.82,414.15 L536.34,414.28 L537.85,414.41 L539.37,414.53 L540.89,414.65 L542.41,414.78 L543.94,414.90 L545.46,415.02 L546.99,415.14 L548.52,415.25 L550.06,415.37 L551.59,415.48 L553.13,415.60 L554.67,415.71 L556.21,415.82 L557.75,415.93 L559.29,416.04 L560.84,416.15 L562.39,416.26 L563.94,416.37 L565.50,416.47 L567.05,416.58 L568.61,416.68 L570.17,416.78 L571.73,416.89 L573.29,416.99 L574.86,417.09 L576.43,417.18 L577.99,417.28 L579.57,417.38 L581.14,417.48 L582.72,417.57 L584.29,417.67 L585.87,417.76 L587.46,417.85 L589.04,417.94 L590.62,418.04 L592.21,418.13 L593.80,418.21 L595.39,418.30 L596.99,418.39 L598.58,418.48 L600.18,418.56 L601.78,418.65 L603.38,418.73 L604.99,418.82 L606.59,418.90 L608.20,418.98 L609.81,419.06 L611.42,419.14 L613.04,419.22 L614.65,419.30 L616.27,419.38 L617.89,419.46 L619.51,419.54 L621.14,419.61 L622.76,419.69 L624.39,419.76 L626.02,419.84 L627.65,419.91 L629.29,419.98 L630.92,420.06 L632.56,420.13 L634.20,420.20 L635.84,420.27 L637.49,420.34 L639.13,420.41 L640.78,420.48 L642.43,420.54 L644.08,420.61 L645.73,420.68 L647.39,420.74 L649.05,420.81 L650.71,420.87 L652.37,420.94 L654.03,421.00 L655.70,421.07 L657.36,421.13 L659.03,421.19 L660.71,421.25 L662.38,421.31 L664.05,421.37 L665.73,421.43 L667.41,421.49 L669.09,421.55 L670.77,421.61 L672.46,421.67 L674.15,421.72 L675.83,421.78 L677.53,421.84 L679.22,421.89 L680.91,421.95 L682.61,422.00 L684.31,422.06 L686.01,422.11 L687.71,422.16 L689.41,422.22 L691.12,422.27 L692.83,422.32 L694.54,422.37 L696.25,422.42 L697.96,422.47 L699.68,422.52 L701.40,422.57 L703.12,422.62 L704.84,422.67 L706.56,422.72 L708.29,422.77 L710.02,422.82 L711.74,422.86 L713.48,422.91 L715.21,422.96 L716.94,423.00 L718.68,423.05 L720.42,423.09 L722.16,423.14 L723.90,423.18 L725.65,423.23 L727.39,423.27 L729.14,423.31 L730.89,423.36 L732.64,423.40 L734.40,423.44 L736.15,423.48 L737.91,423.52 L739.67,423.57 L741.43,423.61 L743.19,423.65 L744.96,423.69 L746.73,423.73 L748.50,423.77 L750.27,423.81 L752.04,423.84 L753.81,423.88 L755.59,423.92 L757.37,423.96 L759.15,424.00 L760.93,424.03 L762.71,424.07 L764.50,424.11 L766.29,424.14 L768.08,424.18 L769.87,424.21 L771.66,424.25 L773.46,424.28 L775.25,424.32 L777.05,424.35 L778.85,424.39 L780.66,424.42 L782.46,424.46 L784.27,424.49 L786.08,424.52 L787.89,424.55 L789.70,424.59 L791.51,424.62 L793.33,424.65 L795.14,424.68 L796.96,424.71 L798.78,424.75 L800.61,424.78 L802.43,424.81 L804.26,424.84 L806.09,424.87 L807.92,424.90 L809.75,424.93" fill="none" stroke="#cc0000" stroke-width="5.2" stroke-linejoin="round" stroke-linecap="round"/>
<!-- tick labels -->
<text transform="translate(113.20,439.00) scale(0.975,1)" x="0" y="0" text-anchor="end" font-size="35.2">0.0</text>
<text transform="translate(115.10,384.05) scale(0.975,1)" x="0" y="0" text-anchor="end" font-size="35.2">0.1</text>
<text transform="translate(113.20,327.40) scale(0.975,1)" x="0" y="0" text-anchor="end" font-size="35.2">0.2</text>
<text transform="translate(113.20,270.75) scale(0.975,1)" x="0" y="0" text-anchor="end" font-size="35.2">0.3</text>
<text transform="translate(113.20,214.10) scale(0.975,1)" x="0" y="0" text-anchor="end" font-size="35.2">0.4</text>
<text transform="translate(113.20,157.45) scale(0.975,1)" x="0" y="0" text-anchor="end" font-size="35.2">0.5</text>
<text transform="translate(113.20,100.80) scale(0.975,1)" x="0" y="0" text-anchor="end" font-size="35.2">0.6</text>
<text transform="translate(113.20,44.15) scale(0.975,1)" x="0" y="0" text-anchor="end" font-size="35.2">0.7</text>
<text x="202.35" y="464.4" text-anchor="middle" font-size="35.2">2</text>
<text x="354.85" y="464.4" text-anchor="middle" font-size="35.2">4</text>
<text x="507.35" y="464.4" text-anchor="middle" font-size="35.2">6</text>
<text x="659.85" y="464.4" text-anchor="middle" font-size="35.2">8</text>
<text x="811.65" y="464.4" text-anchor="middle" font-size="35.2">10</text>
<!-- legend -->
<text x="610.1" y="56.4" text-anchor="end" font-size="39.1">smooth</text>
<text x="608.8" y="128.6" text-anchor="end" font-size="39.1">white noise</text>
<text x="607.2" y="203.3" text-anchor="end" font-size="39.1">intrinsic</text>
<line x1="632.9" y1="46.15" x2="783" y2="46.15" stroke="#3f3d99" stroke-width="5.2"/>
<line x1="632.9" y1="119.75" x2="783" y2="119.75" stroke="#cc0000" stroke-width="5.2"/>
<line x1="633" y1="194.8" x2="783.1" y2="194.8" stroke="#000" stroke-width="4.3" stroke-dasharray="17.9 10.3"/>
<!-- axis labels -->
<text x="34.7" y="302.9" transform="rotate(-90 34.7 302.9)" font-size="39.4">–</text>
<text x="35.95" y="272.45" transform="rotate(-90 35.95 272.45)" style="font-family:&quot;Liberation Sans&quot;,sans-serif" font-size="35.6">σ</text>
<text x="49.1" y="256.4" transform="rotate(-90 49.1 256.4)" font-style="italic" font-size="28.0">x</text>
<text x="48.8" y="243.0" transform="rotate(-90 48.8 243.0)" font-style="italic" font-size="28.0">y</text>
<text x="38.0" y="224.3" transform="rotate(-90 38.0 224.3)" font-size="39.4">[</text>
<text x="37.0" y="211.2" transform="rotate(-90 37.0 211.2)" font-style="italic" font-size="39.4">e</text>
<text x="21.4" y="189.75" transform="rotate(-90 21.4 189.75)" font-size="28.0">2</text>
<text x="36.25" y="174.5" transform="rotate(-90 36.25 174.5)" font-size="41.5">/</text>
<text x="36.5" y="158.45" transform="rotate(-90 36.5 158.45)" font-style="italic" font-size="39.4">h</text>
<text x="38.05" y="138.5" transform="rotate(-90 38.05 138.5)" font-size="39.4">]</text>
<text x="431.65" y="511.05" font-size="39.4">ε</text>
<text x="457.9" y="510.85" font-size="41.5">/</text>
<text x="475.0" y="510.8" font-style="italic" font-size="39.4">m</text>
</svg>
</body></html>
